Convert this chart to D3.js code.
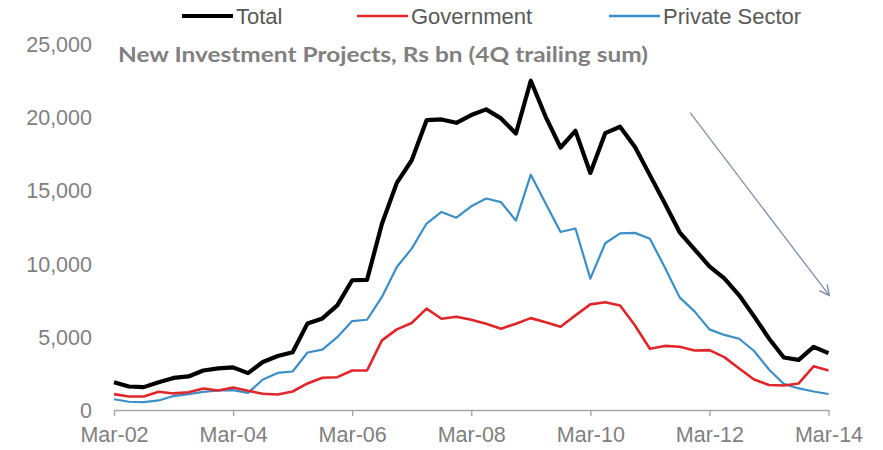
<!DOCTYPE html>
<html>
<head>
<meta charset="utf-8">
<script src="https://cdn.jsdelivr.net/npm/d3@7"></script>
<style>
  html, body { margin: 0; padding: 0; background: #fff; }
  svg { display: block; }
  text { font-family: "Liberation Sans", Arial, sans-serif; }
</style>
</head>
<body>
<svg id="chart" width="883" height="450"></svg>
<script>
// Quarter-end labels, Mar-02 .. Mar-14
const quarters = [
  "Mar-02","Jun-02","Sep-02","Dec-02","Mar-03","Jun-03","Sep-03","Dec-03",
  "Mar-04","Jun-04","Sep-04","Dec-04","Mar-05","Jun-05","Sep-05","Dec-05",
  "Mar-06","Jun-06","Sep-06","Dec-06","Mar-07","Jun-07","Sep-07","Dec-07",
  "Mar-08","Jun-08","Sep-08","Dec-08","Mar-09","Jun-09","Sep-09","Dec-09",
  "Mar-10","Jun-10","Sep-10","Dec-10","Mar-11","Jun-11","Sep-11","Dec-11",
  "Mar-12","Jun-12","Sep-12","Dec-12","Mar-13","Jun-13","Sep-13","Dec-13",
  "Mar-14"
];

// New investment projects, Rs bn, 4-quarter trailing sum
const total = [
  1870,1575,1530,1870,2160,2260,2670,2810,2880,2490,3250,3660,3920,
  5890,6230,7120,8840,8870,12700,15500,17050,
  19790,19840,19610,20140,20530,19910,18880,22490,20020,17920,19060,16180,
  18900,19340,17950,16030,14110,12120,10960,9790,8970,7810,6370,4860,3560,3390,4280,3860
];
const government = [
  1050,890,890,1210,1100,1180,1440,1300,1510,1280,1080,1030,1230,1780,2170,2210,2670,2670,
  4730,5480,5920,6900,6210,6350,6140,5870,5530,5870,6250,5960,5660,6440,7190,
  7330,7120,5750,4160,4350,4290,4040,4060,3580,2810,2050,1680,1640,1780,2950,2670
];
const privateSector = [
  700,530,500,620,920,1050,1210,1300,1320,1140,2050,2500,2600,3900,4090,4950,6050,6140,
  7700,9750,11000,12720,13510,13120,13900,14430,14180,12920,16060,14090,12140,12380,8950,
  11370,12050,12080,11680,9730,7670,6710,5480,5100,4840,4000,2740,1750,1440,1230,1060
];

const seriesNames = ["Total", "Government", "Private Sector"];
const yTicks = [0, 5000, 10000, 15000, 20000, 25000];
const xTickLabels = ["Mar-02","Mar-04","Mar-06","Mar-08","Mar-10","Mar-12","Mar-14"];
const chartTitle = "New Investment Projects, Rs bn (4Q trailing sum)";

// Trend arrow, in (quarter index, value) terms
const trendArrow = [[38.7, 20300], [48.05, 7800]];

const series = [
  { name: seriesNames[0], values: total,         color: "#000000", width: 4.2 },
  { name: seriesNames[1], values: government,    color: "#e0262b", width: 2.6 },
  { name: seriesNames[2], values: privateSector, color: "#3a8fc6", width: 2.2 }
];

const svg = d3.select("#chart");

const x = d3.scaleLinear().domain([0, quarters.length - 1]).range([114, 828.5]);
const y = d3.scaleLinear().domain([0, 25000]).range([409.5, 44]);

// Y axis: labels only
const yAxis = svg.append("g")
  .attr("transform", "translate(92,0)")
  .call(d3.axisLeft(y).tickValues(yTicks).tickFormat(d3.format(",")).tickSize(0).tickPadding(0));
yAxis.select(".domain").remove();
yAxis.selectAll("text")
  .attr("fill", "#7f7f7f")
  .style("font-size", "21.5px")
  .attr("dy", "0.36em");

// X axis
const xAxis = svg.append("g")
  .attr("transform", "translate(0,410)")
  .call(d3.axisBottom(x)
    .tickValues(xTickLabels.map(l => quarters.indexOf(l)))
    .tickFormat(i => quarters[i])
    .tickSize(6).tickSizeOuter(0).tickPadding(11));
xAxis.select(".domain").attr("stroke", "#a6a6a6").attr("stroke-width", 1.6);
xAxis.selectAll(".tick line").attr("stroke", "#a6a6a6").attr("stroke-width", 1.4);
xAxis.selectAll("text")
  .attr("fill", "#7f7f7f")
  .style("font-size", "21.5px");

// Series lines (drawn so Total sits on top)
const line = d3.line().x((d, i) => x(i)).y(d => y(d)).curve(d3.curveLinear);
[series[2], series[1], series[0]].forEach(s => {
  svg.append("path")
    .datum(s.values)
    .attr("fill", "none")
    .attr("stroke", s.color)
    .attr("stroke-width", s.width)
    .attr("stroke-linejoin", "round")
    .attr("d", line);
});

// Title inside plot
svg.append("text")
  .attr("x", 118)
  .attr("y", 62)
  .attr("fill", "#808080")
  .attr("font-weight", "bold")
  .attr("textLength", 530)
  .attr("lengthAdjust", "spacingAndGlyphs")
  .style("font-family", "Lato, 'Open Sans', sans-serif")
  .style("font-size", "20px")
  .text(chartTitle);

// Trend arrow
const defs = svg.append("defs");
defs.append("marker")
  .attr("id", "arrowHead")
  .attr("viewBox", "0 0 12 12")
  .attr("refX", 11).attr("refY", 6)
  .attr("markerWidth", 12).attr("markerHeight", 12)
  .attr("markerUnits", "userSpaceOnUse")
  .attr("orient", "auto")
  .append("path")
  .attr("d", "M1,1 L11,6 L1,11")
  .attr("fill", "none")
  .attr("stroke", "#7d8ea8")
  .attr("stroke-width", 1.4);
svg.append("line")
  .attr("x1", x(trendArrow[0][0])).attr("y1", y(trendArrow[0][1]))
  .attr("x2", x(trendArrow[1][0])).attr("y2", y(trendArrow[1][1]))
  .attr("stroke", "#7d8ea8")
  .attr("stroke-width", 1.3)
  .attr("marker-end", "url(#arrowHead)");

// Legend
const legendX = [182, 357, 609];
const legend = svg.append("g");
series.forEach((s, i) => {
  const g = legend.append("g").attr("transform", `translate(${legendX[i]},16)`);
  g.append("line")
    .attr("x1", 0).attr("x2", 51)
    .attr("stroke", s.color)
    .attr("stroke-width", i === 0 ? 4.2 : 2.6);
  g.append("text")
    .attr("x", 54)
    .attr("y", 0)
    .attr("dy", "0.36em")
    .attr("fill", "#595959")
    .style("font-size", "22px")
    .text(s.name);
});
</script>
</body>
</html>
